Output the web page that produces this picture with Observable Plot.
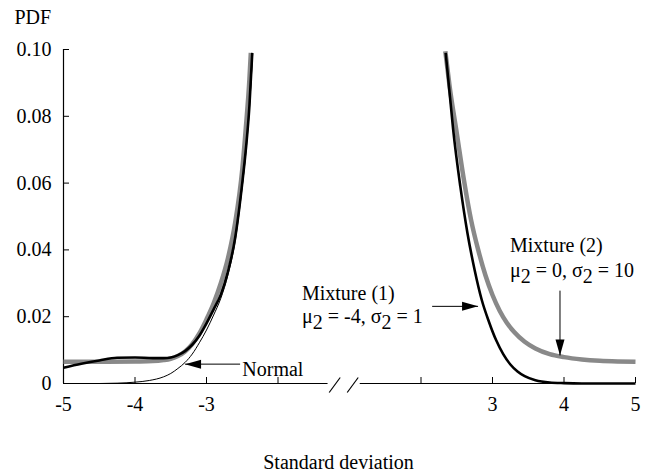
<!DOCTYPE html>
<html>
<head>
<meta charset="utf-8">
<script src="https://cdn.jsdelivr.net/npm/d3@7"></script>
<script src="https://cdn.jsdelivr.net/npm/@observablehq/plot@0.6"></script>
<style>
  html, body { margin: 0; padding: 0; background: #fff; }
  #chart { width: 646px; height: 474px; }
  #chart svg, #chart svg text, #chart svg tspan { font-family: "Liberation Serif", Tinos, "Times New Roman", Times, "DejaVu Serif", serif !important; }
</style>
</head>
<body>
<div id="chart"></div>
<script>
// ---------- data ----------
// Normal PDF, left tail
const normalX = [-5, -4.5, -4.25, -4, -3.8, -3.6, -3.5, -3.4, -3.3, -3.2, -3.1, -3.0, -2.9, -2.8, -2.7, -2.6, -2.5, -2.45, -2.4, -2.355];
const normalY = [0, 0, 0.0001, 0.0004, 0.0009, 0.0020, 0.0030, 0.0045, 0.0063, 0.0088, 0.0122, 0.0160, 0.0205, 0.0255, 0.0325, 0.0425, 0.0590, 0.0690, 0.0822, 0.0985];

// Mixture (1): mu2 = -4, sigma2 = 1
const mix1LeftX = [-5, -4.75, -4.5, -4.25, -4, -3.75, -3.6, -3.5, -3.4, -3.3, -3.2, -3.1, -3.0, -2.9, -2.8, -2.7, -2.6, -2.5, -2.45, -2.4, -2.36];
const mix1LeftY = [0.0047, 0.0059, 0.0069, 0.0077, 0.0078, 0.0076, 0.0076, 0.0078, 0.0085, 0.0097, 0.0116, 0.0143, 0.0180, 0.0222, 0.0266, 0.0335, 0.0435, 0.0600, 0.0700, 0.0830, 0.0990];
const mix1RightX = [2.345, 2.4, 2.45, 2.55, 2.65, 2.75, 2.85, 2.95, 3.05, 3.15, 3.25, 3.35, 3.45, 3.6, 3.8, 4.0, 4.25, 4.5, 5.0];
const mix1RightY = [0.0990, 0.0870, 0.0760, 0.0590, 0.0450, 0.0340, 0.0250, 0.0185, 0.0130, 0.0088, 0.0057, 0.0036, 0.0022, 0.0010, 0.0003, 0.0001, 0, 0, 0];

// Mixture (2): mu2 = 0, sigma2 = 10
const mix2LeftX = [-5, -4.5, -4, -3.75, -3.6, -3.5, -3.4, -3.3, -3.2, -3.1, -3.0, -2.9, -2.8, -2.7, -2.6, -2.5, -2.45, -2.4, -2.38];
const mix2LeftY = [0.0065, 0.0065, 0.0066, 0.0067, 0.0070, 0.0074, 0.0082, 0.0096, 0.0118, 0.0150, 0.0192, 0.0240, 0.0300, 0.0375, 0.0480, 0.0640, 0.0765, 0.0910, 0.0990];
const mix2RightX = [2.34, 2.4, 2.5, 2.6, 2.7, 2.8, 2.9, 3.0, 3.1, 3.2, 3.3, 3.45, 3.6, 3.8, 4.0, 4.25, 4.5, 4.75, 5.0];
const mix2RightY = [0.0995, 0.0890, 0.0750, 0.0610, 0.0490, 0.0400, 0.0325, 0.0265, 0.0218, 0.0182, 0.0155, 0.0125, 0.0105, 0.0088, 0.0079, 0.0072, 0.0068, 0.0066, 0.0065];

// axis ticks
const xTicks = [-5, -4, -3, -2, 2, 3, 4, 5];
const xTickLabels = ["-5", "-4", "-3", "", "", "3", "4", "5"];
const yTicks = [0, 0.02, 0.04, 0.06, 0.08, 0.10];
const yTickLabels = ["0", "0.02", "0.04", "0.06", "0.08", "0.10"];

// broken x axis: two segments (real x) and the break slashes (compressed axis units)
const axisSegments = [{x1: -5, x2: -1.30}, {x1: 1.15, x2: 5}];
const breakMarks = [
  {u1: -1.284, y1: -0.0027, u2: -1.130, y2: 0.0018},
  {u1: -1.032, y1: -0.0027, u2: -0.878, y2: 0.0018}
];

// annotations (real x, y = baseline value)
const annotations = [
  {x: -2.499, y: 0.0021, label: "Normal"},
  {x: 0.335, y: 0.0249, label: "Mixture (1)"},
  {x: 0.335, y: 0.0180, label: "μ_2 = -4, σ_2 = 1"},
  {x: 3.245, y: 0.0393, label: "Mixture (2)"},
  {x: 3.245, y: 0.0318, label: "μ_2 = 0, σ_2 = 10"}
];
const arrows = [
  {x1: -2.53, y1: 0.0058, x2: -3.30, y2: 0.0058, dir: "left"},
  {x1: 2.156, y1: 0.0231, x2: 2.798, y2: 0.0231, dir: "right"},
  {x1: 3.944, y1: 0.0278, x2: 3.944, y2: 0.0084, dir: "down"}
];

// ---------- helpers ----------
const GAP = 2;                       // right half is drawn shifted left by this many units
const pos = x => x < 0 ? x : x - GAP;

function series(name, part, xs, ys) {
  return xs.map((x, i) => ({name, key: name + part, x, y: ys[i]}));
}
const normalRows = series("Normal", "L", normalX, normalY);
const mix1Rows = [...series("Mix1", "L", mix1LeftX, mix1LeftY), ...series("Mix1", "R", mix1RightX, mix1RightY)];
const mix2Rows = [...series("Mix2", "L", mix2LeftX, mix2LeftY), ...series("Mix2", "R", mix2RightX, mix2RightY)];

const xLabelByPos = new Map(xTicks.map((x, i) => [pos(x), xTickLabels[i]]));
const yLabelByVal = new Map(yTicks.map((y, i) => [y, yTickLabels[i]]));

// filled, narrow arrowhead; tip at origin pointing up
const head = {draw(ctx) { ctx.moveTo(0, 0); ctx.lineTo(-4.5, 16); ctx.lineTo(4.5, 16); ctx.closePath(); }};
const rot = {left: -90, right: 90, down: 180};

const font = "Liberation Serif, Tinos, Times New Roman, Times, DejaVu Serif, serif";

const chart = Plot.plot({
  width: 646,
  height: 474,
  marginLeft: 63,
  marginRight: 11,
  marginTop: 49,
  marginBottom: 91,
  style: {fontSize: "20px", background: "#fff", color: "#000"},
  x: {type: "linear", domain: [pos(-5), pos(5)], axis: null},
  y: {type: "linear", domain: [0, 0.1], axis: null},
  marks: [
    // axes
    Plot.axisY({anchor: "left", ticks: yTicks, tickFormat: d => yLabelByVal.get(d), tickSize: -6, tickPadding: 18, fontSize: 20}),
    Plot.axisX({anchor: "bottom", ticks: xTicks.map(pos), tickFormat: d => xLabelByPos.get(d) ?? "", tickSize: -6, tickPadding: 19, fontSize: 20}),
    Plot.ruleX([pos(-5)], {y1: 0, y2: 0.1, stroke: "#000", strokeWidth: 1.2}),
    Plot.ruleY(axisSegments, {y: 0, x1: d => pos(d.x1), x2: d => pos(d.x2), stroke: "#000", strokeWidth: 1.2}),
    Plot.link(breakMarks, {x1: "u1", y1: "y1", x2: "u2", y2: "y2", stroke: "#000", strokeWidth: 1.2}),
    // curves
    Plot.line(mix2Rows, {x: d => pos(d.x), y: "y", z: "key", stroke: "#898989", strokeWidth: 4.5, curve: "monotone-x", strokeLinecap: "butt"}),
    Plot.line(mix1Rows, {x: d => pos(d.x), y: "y", z: "key", stroke: "#000", strokeWidth: 2.6, curve: "monotone-x", strokeLinecap: "butt"}),
    Plot.line(normalRows, {x: d => pos(d.x), y: "y", z: "key", stroke: "#000", strokeWidth: 1, curve: "monotone-x"}),
    // arrows
    Plot.link(arrows, {x1: d => pos(d.x1), y1: "y1", x2: d => pos(d.x2), y2: "y2", stroke: "#000", strokeWidth: 1}),
    ...Object.keys(rot).map(dir =>
      Plot.dot(arrows.filter(a => a.dir === dir), {x: d => pos(d.x2), y: "y2", symbol: head, rotate: rot[dir], fill: "#000", stroke: "none", r: 4})
    ),
    // annotations
    Plot.text(annotations, {x: d => pos(d.x), y: "y", text: "label", textAnchor: "start", lineAnchor: "bottom", fontSize: 20, fill: "#000"}),
    Plot.text(["PDF"], {frameAnchor: "top-left", dx: -49, dy: -26, text: d => d, textAnchor: "start", lineAnchor: "bottom", fontSize: 20}),
    Plot.text(["Standard deviation"], {frameAnchor: "bottom", dx: -11, dy: 85, text: d => d, textAnchor: "middle", lineAnchor: "bottom", fontSize: 20})
  ]
});

// serif font on every text element
d3.select(chart).style("font-family", font);
d3.select(chart).selectAll("g").attr("font-family", null);
d3.select(chart).selectAll("text, tspan").style("font-family", font);

// subscripts: "μ_2" -> μ with a lowered 2
d3.select(chart).selectAll("text").each(function () {
  const t = this.textContent;
  if (!t.includes("_2")) return;
  const parts = t.split("_2");
  const sel = d3.select(this);
  sel.text(null);
  parts.forEach((p, i) => {
    if (i > 0) {
      sel.append("tspan").attr("dy", 6).text("2");
      sel.append("tspan").attr("dy", -6).text(p);
    } else {
      sel.append("tspan").text(p);
    }
  });
});

document.getElementById("chart").appendChild(chart);
</script>
</body>
</html>
